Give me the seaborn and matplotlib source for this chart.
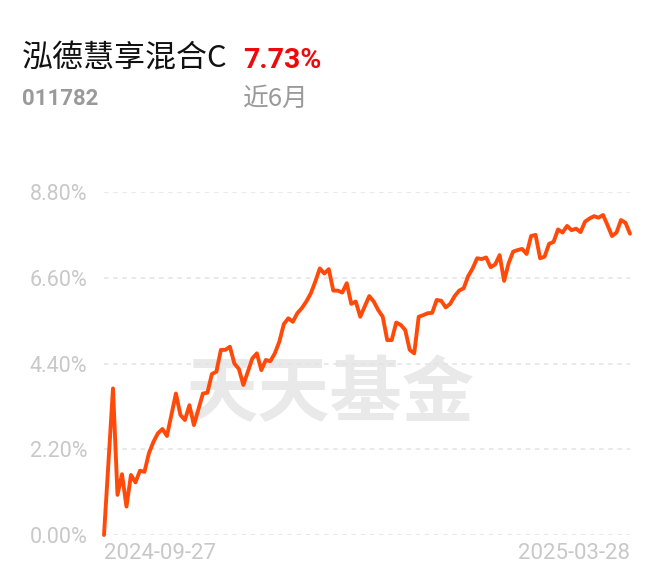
import pandas as pd
import seaborn as sns
import matplotlib.pyplot as plt

# 近6月收益率走势
days = [0, 2, 3, 4, 5, 6, 7, 8, 9, 10, 11, 12, 13, 14, 16, 17, 18, 19, 20,
        22, 23, 24, 25, 26, 27, 28, 29, 30, 31, 32, 33, 34, 35, 36, 37, 38, 39,
        40, 41, 42, 43, 44, 45, 46, 47, 48, 49, 50, 51, 52, 53, 54, 55, 56, 57,
        59, 60, 61, 62, 63, 64, 65, 66, 67, 68, 69, 70, 71, 72, 73, 74, 75, 76,
        77, 78, 79, 80, 81, 82, 83, 84, 85, 86, 87, 88, 89, 90, 91, 92, 93, 94,
        95, 96, 97, 98, 99, 100, 101, 102, 103, 104, 105, 106, 107, 108, 109,
        110, 111, 112, 113, 114, 115, 116, 117]
returns = [0.00, 3.76, 1.03, 1.56, 0.73, 1.54, 1.35, 1.65, 1.62, 2.10, 2.39, 2.61,
           2.72, 2.54, 3.63, 3.08, 2.95, 3.33, 2.82,
           3.63, 3.65, 4.13, 4.19, 4.75, 4.75, 4.83, 4.40, 4.26, 3.85, 4.19, 4.53,
           4.66, 4.23, 4.49, 4.46, 4.66, 4.96,
           5.41, 5.56, 5.47, 5.69, 5.82, 5.99, 6.20, 6.50, 6.84, 6.71, 6.82, 6.27,
           6.27, 6.22, 6.46, 5.93, 5.99, 5.60,
           6.13, 5.99, 5.77, 5.60, 5.00, 5.00, 5.45, 5.39, 5.26, 4.75, 4.66, 5.60,
           5.64, 5.69, 5.70, 6.03, 6.01, 5.84,
           5.93, 6.13, 6.27, 6.33, 6.64, 6.84, 7.10, 7.08, 7.12, 6.87, 6.94, 7.18,
           6.52, 6.97, 7.27, 7.31, 7.34, 7.21,
           7.67, 7.70, 7.10, 7.14, 7.47, 7.52, 7.84, 7.76, 7.93, 7.82, 7.86, 7.77,
           8.04, 8.12, 8.18,
           8.14, 8.21, 7.95, 7.67, 7.76, 8.08, 8.01, 7.73]

y_ticks = [0.0, 2.2, 4.4, 6.6, 8.8]
date_labels = ["2024-09-27", "2025-03-28"]

fund_name = "泓德慧享混合C"
fund_code = "011782"
period_return = "7.73%"
period_name = "近6月"

sns.set_style("white")
plt.rcParams['font.family'] = ['Roboto', 'Noto Sans CJK SC', 'DejaVu Sans']

df = pd.DataFrame({"day": days, "ret": returns})

fig = plt.figure(figsize=(6.6, 5.85), dpi=100)
ax = fig.add_axes([104 / 660, 50 / 585, 526 / 660, 343 / 585])

# 水印
ax.text(0.43, 0.41, "天天基金", transform=ax.transAxes, ha='center', va='center',
        fontsize=52, fontweight='heavy', color='#e9e9e9',
        family=['Noto Sans CJK SC'], zorder=0)

sns.lineplot(data=df, x="day", y="ret", ax=ax, color='#ff4a0a', linewidth=2.8,
             clip_on=False, zorder=3)

ax.set_xlim(0, days[-1])
ax.set_ylim(0, 8.8)
ax.set_yticks(y_ticks)
ax.set_yticklabels([f"{v:.2f}%" for v in y_ticks], color='#c8c8c8', fontsize=15.5)
ax.set_xticks([days[0], days[-1]])
ax.set_xticklabels(date_labels, color='#c8c8c8', fontsize=16)
xl = ax.get_xticklabels()
xl[0].set_ha('left')
xl[1].set_ha('right')
ax.tick_params(axis='y', length=0, pad=12)
ax.tick_params(axis='x', length=0, pad=6)
ax.grid(axis='y', linestyle=(0, (3, 3)), color='#e3e3e3', linewidth=1.1)
ax.grid(axis='x', visible=False)
ax.set_xlabel("")
ax.set_ylabel("")
for s in ax.spines.values():
    s.set_visible(False)

# 标题区域
fig.text(22 / 660, 1 - 67 / 585, fund_name, fontsize=22.3, color='#111111',
         family=['Noto Sans CJK SC'], va='baseline')
fig.text(243 / 660, 1 - 68 / 585, period_return, fontsize=20.5, fontweight='bold',
         color='#ee0a0a', va='baseline')
fig.text(22 / 660, 1 - 105 / 585, fund_code, fontsize=16, fontweight='bold',
         color='#9a9a9a', va='baseline')
fig.text(243 / 660, 1 - 106 / 585, period_name, fontsize=18.5, color='#9a9a9a',
         family=['Noto Sans CJK SC'], va='baseline')

fig.savefig("out.png", dpi=100)
